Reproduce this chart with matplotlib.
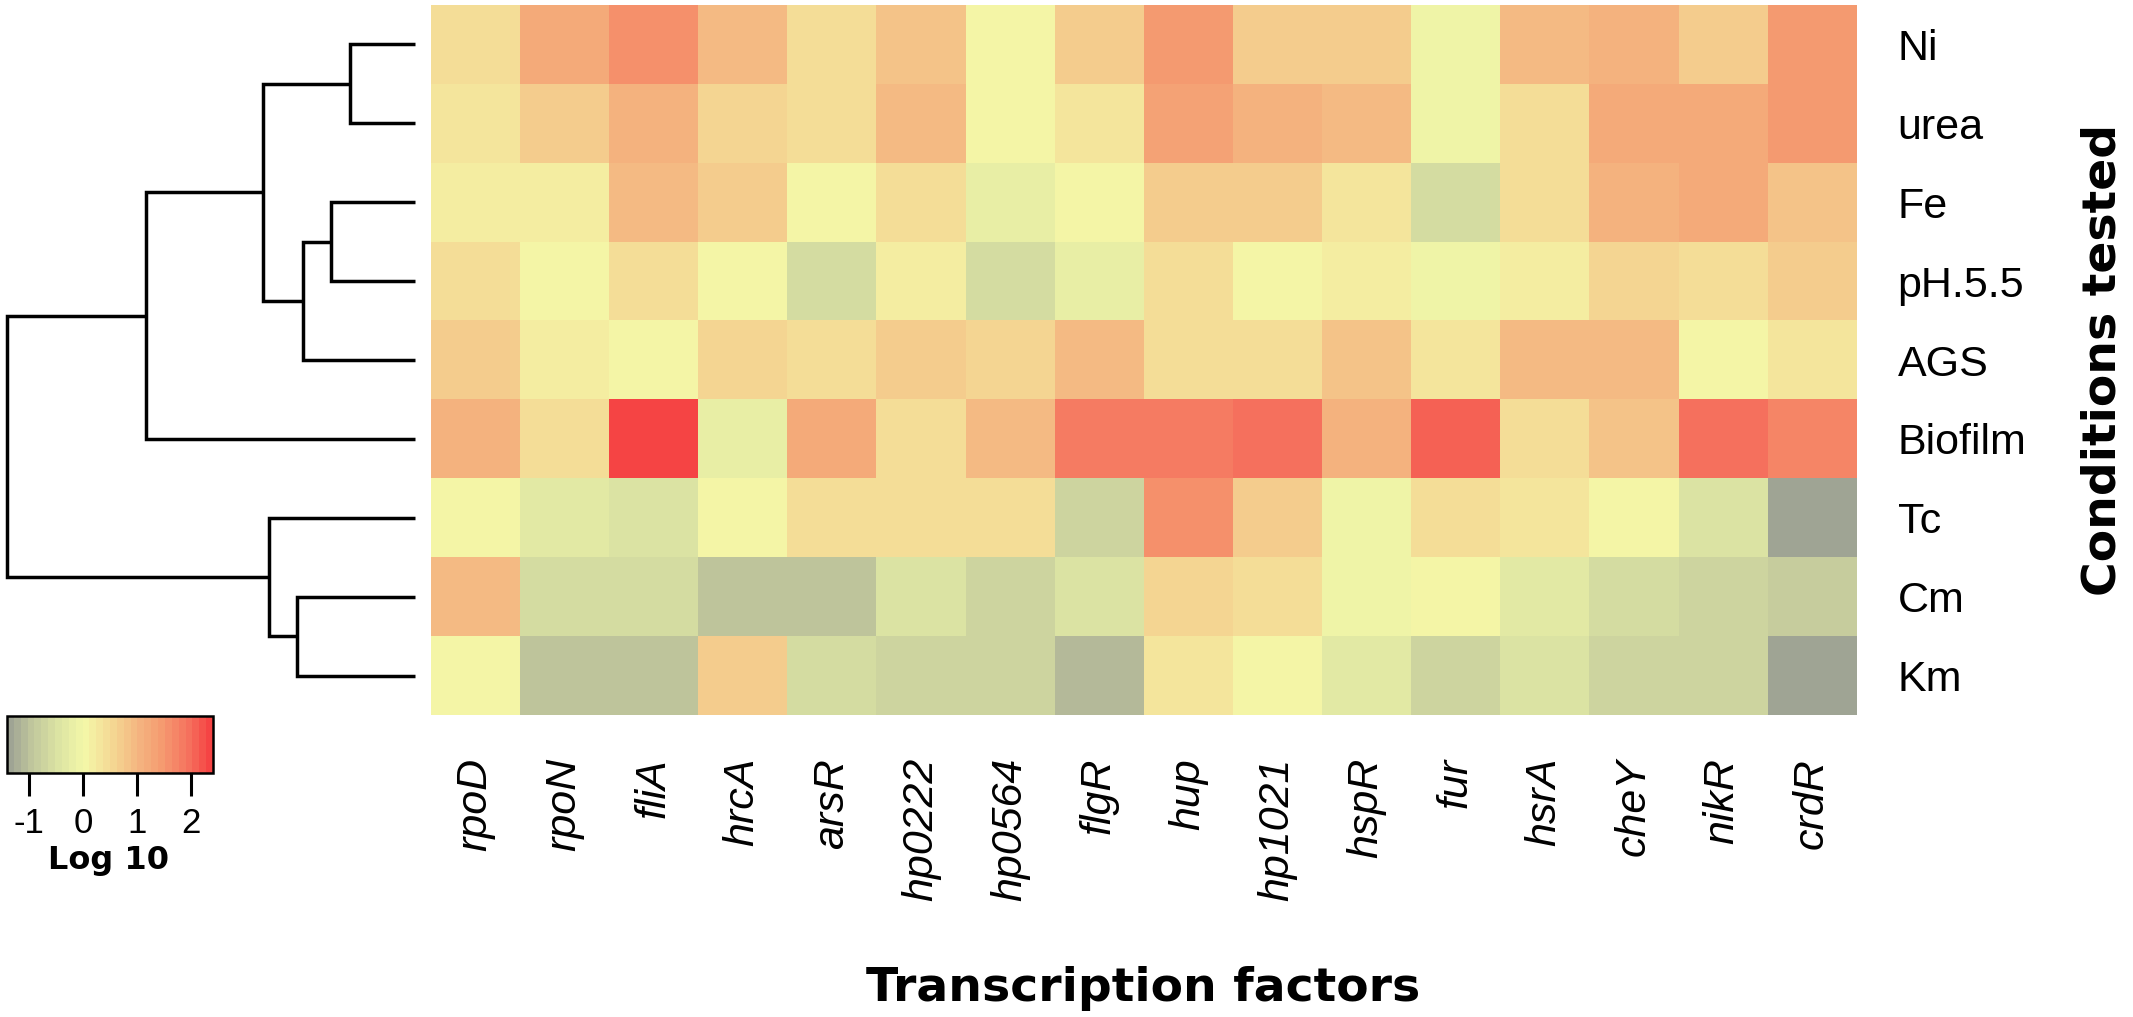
import numpy as np
import matplotlib
matplotlib.use("Agg")
import matplotlib.pyplot as plt
from matplotlib.colors import LinearSegmentedColormap, Normalize

plt.rcParams["axes.unicode_minus"] = False

conditions = ["Ni", "urea", "Fe", "pH.5.5", "AGS", "Biofilm", "Tc", "Cm", "Km"]
factors = ["rpoD", "rpoN", "fliA", "hrcA", "arsR", "hp0222", "hp0564", "flgR",
           "hup", "hp1021", "hspR", "fur", "hsrA", "cheY", "nikR", "crdR"]

# log10 fold change (rows = conditions, cols = factors)
ni      = [0.45, 1.25, 1.6, 1.0, 0.5, 0.8, 0.1, 0.7, 1.4, 0.7, 0.65, -0.05, 1.0, 1.05, 0.65, 1.5]
urea    = [0.35, 0.7, 1.1, 0.55, 0.45, 0.95, 0.1, 0.35, 1.3, 1.1, 0.95, -0.05, 0.5, 1.25, 1.25, 1.4]
fe      = [0.15, 0.15, 1.0, 0.7, 0.1, 0.5, -0.2, 0.05, 0.75, 0.75, 0.35, -0.55, 0.4, 1.05, 1.2, 0.85]
ph55    = [0.45, 0.0, 0.5, 0.0, -0.55, 0.15, -0.55, -0.25, 0.45, 0.0, 0.15, -0.05, 0.15, 0.6, 0.4, 0.7]
ags     = [0.7, 0.2, 0.0, 0.6, 0.5, 0.75, 0.6, 0.9, 0.5, 0.4, 0.8, 0.3, 0.95, 1.0, 0.0, 0.35]
biofilm = [1.05, 0.4, 2.4, -0.15, 1.2, 0.5, 0.9, 1.8, 1.9, 1.95, 1.1, 2.1, 0.4, 0.85, 2.0, 1.75]
tc      = [0.1, -0.3, -0.4, 0.0, 0.5, 0.5, 0.5, -0.75, 1.6, 0.7, -0.05, 0.5, 0.3, 0.0, -0.4, -1.3]
cm      = [1.0, -0.6, -0.6, -1.0, -0.95, -0.4, -0.75, -0.4, 0.55, 0.4, -0.05, 0.03, -0.3, -0.55, -0.65, -0.9]
km      = [0.0, -0.95, -0.95, 0.65, -0.6, -0.7, -0.65, -1.05, 0.35, 0.0, -0.3, -0.7, -0.4, -0.65, -0.65, -1.4]
values = np.array([ni, urea, fe, ph55, ags, biofilm, tc, cm, km])

# row dendrogram: (left node, right node, merge height); leaves are 0..8
merges = [(0, 1, 0.65), (2, 3, 0.84), (10, 4, 1.12), (9, 11, 1.52),
          (12, 5, 2.69), (7, 8, 1.18), (6, 14, 1.46), (13, 15, 4.08)]

cbar_ticks = [-1, 0, 1, 2]
vmin, vmax = -1.41, 2.41

anchors = [(-1.41, "#9fa494"), (-1.0, "#c0c69c"), (-0.5, "#dbe3a3"), (0.0, "#f4f8a8"),
           (0.5, "#f4da95"), (1.0, "#f4b882"), (1.5, "#f59a70"), (2.0, "#f5725e"),
           (2.41, "#f54444")]
cmap = LinearSegmentedColormap.from_list(
    "gyr", [((v - vmin) / (vmax - vmin), c) for v, c in anchors], N=30)
norm = Normalize(vmin, vmax)

W, H = 2133, 1017
fig = plt.figure(figsize=(W / 100, H / 100), dpi=100)

hm_left, hm_right, hm_top, hm_bot = 431, 1856, 5, 715
ax = fig.add_axes([hm_left / W, 1 - hm_bot / H, (hm_right - hm_left) / W, (hm_bot - hm_top) / H])
im = ax.imshow(values, cmap=cmap, norm=norm, aspect="auto", interpolation="nearest")
for s in ax.spines.values():
    s.set_visible(False)
ax.set_yticks(range(len(conditions)))
ax.set_yticklabels(conditions, family="Liberation Sans", fontsize=31)
ax.yaxis.tick_right()
ax.tick_params(axis="y", length=0, pad=30)
ax.set_xticks(range(len(factors)))
ax.set_xticklabels(factors, family="Liberation Sans", fontsize=31, style="italic",
                   rotation=90, ha="center", va="top")
ax.tick_params(axis="x", length=0, pad=31)

# dendrogram
dax = fig.add_axes([7 / W, 1 - hm_bot / H, (415 - 7) / W, (hm_bot - hm_top) / H])
pos = {i: float(i) for i in range(len(conditions))}
hgt = {i: 0.0 for i in range(len(conditions))}
node = len(conditions)
for a, b, h in merges:
    dax.plot([hgt[a], h, h, hgt[b]], [pos[a], pos[a], pos[b], pos[b]],
             color="black", lw=2.5, solid_joinstyle="miter", solid_capstyle="butt",
             clip_on=False)
    pos[node] = (pos[a] + pos[b]) / 2
    hgt[node] = h
    node += 1
dax.set_xlim(max(h for _, _, h in merges), 0)
dax.set_ylim(len(conditions) - 0.5, -0.5)
dax.axis("off")

# colour key
cax = fig.add_axes([7 / W, 1 - 773 / H, 206 / W, 57 / H])
cb = fig.colorbar(im, cax=cax, orientation="horizontal", ticks=cbar_ticks)
cb.outline.set_linewidth(1.8)
cax.tick_params(length=16.5, width=2.2, pad=8, labelsize=25)
for t in cax.get_xticklabels():
    t.set_family("Liberation Sans")
fig.text(108 / W, 1 - 860 / H, "Log 10", ha="center", va="center",
         fontsize=23, fontweight="bold", family="DejaVu Sans")

fig.text((hm_left + hm_right) / 2 / W, 1 - 1001 / H, "Transcription factors",
         ha="center", va="baseline", fontsize=34, fontweight="bold", family="DejaVu Sans")
fig.text(2103 / W, 1 - 360 / H, "Conditions tested", rotation=90,
         ha="center", va="center", fontsize=34, fontweight="bold", family="DejaVu Sans")

fig.savefig("out.png", dpi=100)
